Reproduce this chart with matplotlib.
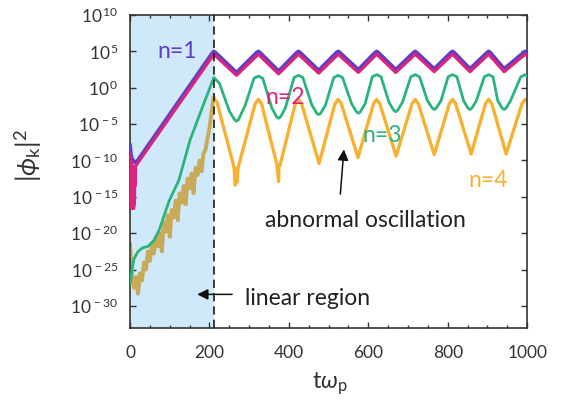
import matplotlib
matplotlib.use("Agg")
import matplotlib.pyplot as plt
import numpy as np
from matplotlib.ticker import FixedLocator, MultipleLocator, FuncFormatter

plt.rcParams['font.family'] = ['Lato', 'DejaVu Sans']
plt.rcParams['mathtext.fontset'] = 'custom'
plt.rcParams['mathtext.rm'] = 'Lato'
plt.rcParams['mathtext.it'] = 'Lato:italic'
plt.rcParams['mathtext.bf'] = 'Lato:bold'

# ---- data: time (t*omega_p) and log10 |phi_k|^2 for each mode ----
t_n1 = [0, 2, 5, 10, 15, 206, 211, 216, 268, 318, 323, 328, 374, 419, 424, 429, 475, 519, 524, 529,
        575, 616, 621, 626, 669, 713, 718, 723, 766, 807, 812, 817, 856, 898, 903, 908, 942, 990, 995, 1000]
v_n1 = [-7.9, -9.0, -9.8, -10.2, -10.3, 4.7, 5.0, 4.8, 2.1, 4.8, 5.0, 4.8, 2.3, 4.8, 5.0, 4.8, 2.4, 4.8, 5.0, 4.8,
        2.5, 4.8, 5.0, 4.8, 2.5, 4.8, 5.0, 4.8, 2.6, 4.8, 5.0, 4.8, 2.6, 4.8, 5.0, 4.8, 2.6, 4.8, 5.0, 4.8]

t_n2 = [0, 1, 2, 3, 4, 5, 6, 7, 8, 9, 10, 11, 12, 13, 14, 16, 211, 268, 323, 374, 424, 475, 524, 575, 621, 669, 718, 766, 812, 856, 903, 942, 995, 1000]
v_n2 = [-9.0, -14.5, -10.0, -16.0, -10.5, -16.6, -11.0, -15.5, -10.8, -16.6, -11.5, -16.0, -11.2, -13.5, -10.8, -10.6, 4.6, 1.7, 4.6, 1.9, 4.6, 2.0, 4.6, 2.1, 4.6, 2.1, 4.6, 2.2, 4.6, 2.2, 4.6, 2.2, 4.6, 4.4]

t_n3 = [0, 5, 10, 20, 32, 45, 60, 73, 98, 123, 151, 180, 211,
        225, 250, 263, 268, 273, 290, 312, 323, 334, 357, 369, 374, 379, 391, 413, 424, 435, 458, 470, 475, 480, 492,
        513, 524, 535, 558, 570, 575, 580, 592, 610, 621, 632, 652, 664, 669, 674, 686, 707, 718, 729, 749, 761, 766, 771, 783,
        801, 812, 823, 840, 851, 856, 861, 872, 892, 903, 914, 926, 937, 942, 947, 958, 984, 995, 1000]
v_n3 = [-27.0, -25.0, -23.5, -22.5, -22.0, -21.8, -21.0, -19.6, -15.6, -12.7, -7.2, -3.0, 1.4,
        0.6, -3.2, -4.4, -4.6, -4.4, -2.4, 1.3, 1.6, 1.3, -2.8, -4.0, -4.2, -4.0, -2.8, 1.4, 1.7, 1.4, -2.4, -3.5, -3.7, -3.5, -2.4,
        1.4, 1.7, 1.4, -2.2, -3.3, -3.5, -3.3, -2.2, 1.5, 1.8, 1.5, -2.0, -3.1, -3.3, -3.1, -2.0, 1.5, 1.8, 1.5, -1.8, -2.8, -3.0, -2.8, -1.8,
        1.5, 1.8, 1.5, -1.8, -2.8, -3.0, -2.8, -1.8, 1.5, 1.8, 1.5, -1.8, -2.8, -3.0, -2.8, -1.8, 1.5, 1.8, 1.6]

# early noisy growth phase of n=4, sampled every 5 time units
t_n4_lin = list(range(0, 215, 5))
v_n4_lin = [-21.5, -26.0, -27.5, -26.0, -28.3, -25.5, -26.5, -24.0, -25.0, -22.5,
            -23.8, -21.5, -22.8, -20.5, -21.8, -20.0, -22.5, -18.5, -19.8, -17.5,
            -20.5, -16.8, -17.8, -15.5, -18.2, -14.5, -15.8, -13.5, -16.0, -12.5,
            -13.8, -11.8, -14.5, -11.0, -12.0, -10.0, -11.5, -9.0, -8.5, -7.0,
            -5.5, -3.5, -1.4]
t_n4 = [210, 219, 262, 265, 267, 269, 272, 315, 323, 331, 370, 374, 375, 378,
        416, 424, 432, 476, 516, 524, 532, 574, 613, 621, 629, 670, 710, 718, 726, 766,
        804, 812, 820, 859, 895, 903, 911, 947, 987, 995, 1000]
v_n4 = [-1.4, -2.0, -11.0, -13.4, -11.2, -13.0, -11.0, -2.2, -1.6, -2.2, -10.6, -12.9, -10.6, -10.6,
        -2.2, -1.6, -2.2, -10.4, -2.2, -1.6, -2.2, -9.6, -2.2, -1.6, -2.2, -9.4, -2.2, -1.6, -2.2, -9.2,
        -2.2, -1.6, -2.2, -9.1, -2.2, -1.6, -2.2, -9.1, -2.2, -1.6, -1.9]

t_linear_end = 211
y_ticks = [-30, -25, -20, -15, -10, -5, 0, 5, 10]
x_ticks = [0, 200, 400, 600, 800, 1000]

c_n1 = '#5b3fc8'
c_n2 = '#d9257e'
c_n3 = '#2bb37c'
c_n4 = '#f7b132'
c_n4_early = '#c9aa58'

fig = plt.figure(figsize=(5.73, 4.15), dpi=100)
ax = fig.add_axes([0.227, 0.210, 0.693, 0.754])

ax.axvspan(0, t_linear_end, color='#cfe9fb', zorder=0, lw=0)

def pw(v):
    return 10.0 ** np.asarray(v)

ax.plot(t_n4_lin, pw(v_n4_lin), color=c_n4_early, lw=2.8, zorder=2)
ax.plot(t_n4, pw(v_n4), color=c_n4, lw=2.4, zorder=2)
ax.plot(t_n3, pw(v_n3), color=c_n3, lw=2.0, zorder=3)
ax.plot(t_n1, pw(v_n1), color=c_n1, lw=2.6, zorder=4)
ax.plot(t_n2, pw(v_n2), color=c_n2, lw=2.3, zorder=5)

ax.axvline(t_linear_end, color='#1a1a1a', lw=1.2, ls=(0, (5, 3)), zorder=6)

ax.set_yscale('log')
ax.set_xlim(0, 1000)
ax.set_ylim(1e-33, 1e10)
ax.xaxis.set_major_locator(FixedLocator(x_ticks))
ax.xaxis.set_minor_locator(MultipleLocator(50))
ax.yaxis.set_major_locator(FixedLocator([10.0 ** k for k in y_ticks]))
ax.yaxis.set_minor_locator(FixedLocator([]))
ax.yaxis.set_major_formatter(FuncFormatter(lambda v, p: r'$10^{\,%d}$' % round(np.log10(v))))
ax.tick_params(which='both', direction='in', top=True, right=True, colors='#333333',
               labelcolor='#333333', labelsize=12.5)
ax.tick_params(which='major', length=4, width=1)
ax.tick_params(which='minor', length=2.5, width=1)
ax.tick_params(axis='x', pad=12)
ax.tick_params(axis='y', pad=8)
for s in ax.spines.values():
    s.set_color('#333333')
    s.set_linewidth(1.2)

ax.set_xlabel(r'$\mathrm{t}\omega_{\mathrm{p}}$', fontsize=17, color='#333333')
ax.xaxis.set_label_coords(0.504, -0.135)
ax.xaxis.label.set_va('top')
ax.set_ylabel(r'$|\phi_{\mathrm{k}}|^{2}$', fontsize=19, color='#333333')
ax.yaxis.set_label_coords(-0.258, 0.55)
ax.yaxis.label.set_va('center')

fs_lab = 16.5
ax.text(68, 10 ** 5.0, 'n=1', color=c_n1, fontsize=fs_lab, va='center', ha='left')
ax.text(340, 10 ** -1.4, 'n=2', color=c_n2, fontsize=fs_lab, va='center', ha='left')
ax.text(584, 10 ** -6.5, 'n=3', color=c_n3, fontsize=fs_lab, va='center', ha='left')
ax.text(851, 10 ** -12.7, 'n=4', color=c_n4, fontsize=fs_lab, va='center', ha='left')

ax.text(593, 10 ** -18.2, 'abnormal oscillation', color='#222222', fontsize=fs_lab,
        va='center', ha='center')
ax.annotate('', xy=(539, 10 ** -8.1), xytext=(529, 10 ** -15.0),
            arrowprops=dict(arrowstyle='-|>', color='#111111', lw=1.1, mutation_scale=16))

ax.text(290, 10 ** -28.9, 'linear region', color='#222222', fontsize=fs_lab,
        va='center', ha='left')
ax.annotate('', xy=(162, 10 ** -28.4), xytext=(264, 10 ** -28.4),
            arrowprops=dict(arrowstyle='-|>', color='#111111', lw=1.1, mutation_scale=16))

fig.savefig('out.png', dpi=100)
